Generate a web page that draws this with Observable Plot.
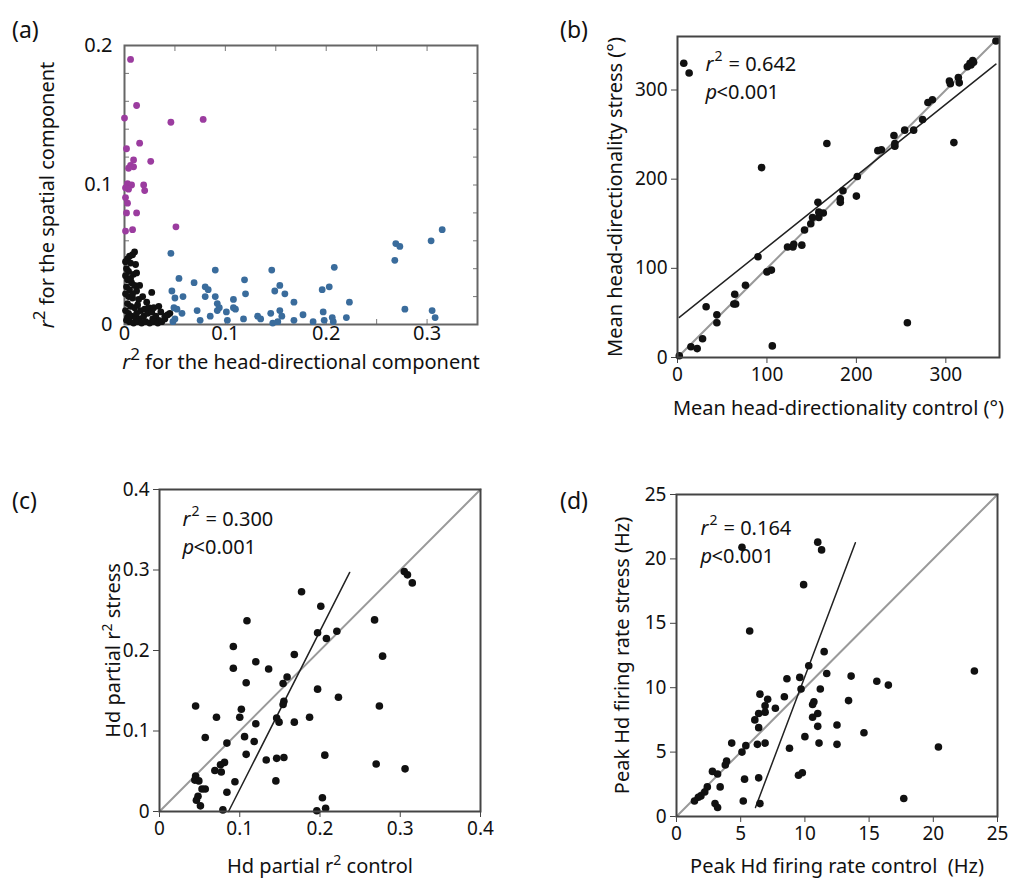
<!DOCTYPE html>
<html><head><meta charset="utf-8">
<script src="https://cdn.jsdelivr.net/npm/d3@7"></script>
<script src="https://cdn.jsdelivr.net/npm/@observablehq/plot@0.6"></script>
<style>
body{margin:0;background:#fff;font-family:"Noto Sans",sans-serif;}
#root{position:relative;width:1028px;height:886px;overflow:hidden;background:#fff;}
.panel{position:absolute;}
.tag{position:absolute;font-size:23px;color:#111;line-height:1;}
</style></head><body>
<div id="root"></div>
<script>
// ---------- DATA ----------
const panelTags = ["(a)", "(b)", "(c)", "(d)"];

// (a) r² head-directional (x) vs spatial (y)
const aPurple = [[0.006,0.190],[0.012,0.157],[0.000,0.148],[0.046,0.145],[0.078,0.147],[0.015,0.130],[0.002,0.126],[0.026,0.117],[0.009,0.118],[0.006,0.114],[0.009,0.113],[0.004,0.112],[0.003,0.101],[0.007,0.100],[0.001,0.098],[0.004,0.097],[0.019,0.100],[0.020,0.096],[0.001,0.091],[0.003,0.087],[0.002,0.080],[0.012,0.080],[0.051,0.070],[0.001,0.067],[0.008,0.068]];
const aBlack = [[0.010,0.052],[0.008,0.050],[0.005,0.049],[0.003,0.047],[0.001,0.045],[0.006,0.044],[0.002,0.040],[0.004,0.038],[0.009,0.036],[0.001,0.035],[0.012,0.037],[0.003,0.032],[0.007,0.030],[0.010,0.028],[0.002,0.027],[0.005,0.025],[0.012,0.024],[0.001,0.022],[0.004,0.020],[0.008,0.019],[0.014,0.018],[0.018,0.020],[0.022,0.016],[0.003,0.015],[0.006,0.013],[0.010,0.012],[0.013,0.014],[0.016,0.010],[0.020,0.011],[0.024,0.012],[0.001,0.010],[0.004,0.008],[0.007,0.006],[0.011,0.005],[0.015,0.004],[0.019,0.006],[0.023,0.008],[0.027,0.009],[0.028,0.004],[0.031,0.006],[0.034,0.003],[0.002,0.003],[0.005,0.002],[0.009,0.001],[0.013,0.002],[0.017,0.001],[0.021,0.002],[0.025,0.001],[0.029,0.002],[0.033,0.001],[0.037,0.002],[0.040,0.004],[0.043,0.007],[0.036,0.009],[0.012,0.008],[0.008,0.022],[0.003,0.005],[0.006,0.033],[0.015,0.028],[0.011,0.043],[0.027,0.023],[0.029,0.012],[0.034,0.013],[0.045,0.008],[0.040,0.006]];
const aBlue = [[0.046,0.051],[0.090,0.039],[0.146,0.039],[0.054,0.033],[0.069,0.030],[0.080,0.027],[0.083,0.025],[0.119,0.032],[0.154,0.028],[0.047,0.024],[0.058,0.020],[0.050,0.019],[0.080,0.020],[0.090,0.020],[0.108,0.018],[0.120,0.022],[0.149,0.024],[0.159,0.022],[0.168,0.016],[0.092,0.015],[0.094,0.012],[0.092,0.010],[0.049,0.012],[0.052,0.011],[0.057,0.008],[0.072,0.010],[0.085,0.006],[0.101,0.009],[0.108,0.012],[0.110,0.011],[0.075,0.003],[0.102,0.003],[0.118,0.004],[0.132,0.006],[0.135,0.004],[0.145,0.008],[0.154,0.010],[0.156,0.006],[0.147,0.001],[0.152,0.002],[0.168,0.003],[0.048,0.002],[0.050,0.004],[0.177,0.007],[0.187,0.002],[0.196,0.025],[0.203,0.027],[0.208,0.041],[0.197,0.009],[0.198,0.003],[0.206,0.005],[0.207,0.002],[0.220,0.005],[0.223,0.016],[0.268,0.046],[0.269,0.058],[0.273,0.056],[0.278,0.011],[0.304,0.060],[0.315,0.068],[0.305,0.010],[0.308,0.005]];
const aXTicks = [0, 0.1, 0.2, 0.3];
const aYTicks = [0, 0.1, 0.2];
const aXMinor = [0, 0.05, 0.1, 0.15, 0.2, 0.25, 0.3, 0.35];
const aYMinor = [0, 0.02, 0.04, 0.06, 0.08, 0.1, 0.12, 0.14, 0.16, 0.18, 0.2];

// (b) mean head-directionality control vs stress
const bPts = [[7,330],[13,319],[167,240],[94,213],[2,2],[15,12],[22,10],[28,21],[32,57],[44,39],[44,48],[63,60],[65,60],[64,71],[76,81],[90,113],[100,96],[105,98],[106,13],[123,124],[129,124],[130,127],[139,126],[142,143],[149,150],[151,157],[158,157],[163,162],[158,163],[157,174],[182,174],[182,178],[185,187],[200,181],[257,39],[201,203],[224,232],[228,233],[242,249],[243,237],[243,240],[254,255],[264,255],[274,267],[280,286],[285,289],[304,310],[305,307],[314,314],[315,308],[324,326],[327,330],[330,333],[328,328],[331,331],[356,355],[309,241]];
const bFit = [[2,45],[356,329]];
const bIdentity = [[0,0],[360,360]];
const bTicks = [0, 100, 200, 300];

// (c) Hd partial r² control vs stress
const cPts = [[0.177,0.273],[0.201,0.255],[0.109,0.237],[0.197,0.222],[0.092,0.205],[0.168,0.195],[0.092,0.178],[0.120,0.186],[0.136,0.177],[0.159,0.167],[0.221,0.224],[0.208,0.215],[0.305,0.298],[0.309,0.294],[0.315,0.284],[0.268,0.238],[0.278,0.193],[0.154,0.159],[0.108,0.160],[0.197,0.152],[0.223,0.142],[0.274,0.131],[0.045,0.131],[0.102,0.127],[0.155,0.137],[0.154,0.133],[0.071,0.117],[0.100,0.117],[0.146,0.116],[0.149,0.111],[0.168,0.111],[0.187,0.117],[0.120,0.109],[0.057,0.092],[0.106,0.093],[0.118,0.087],[0.084,0.085],[0.108,0.071],[0.206,0.070],[0.133,0.064],[0.146,0.066],[0.155,0.067],[0.081,0.061],[0.076,0.058],[0.069,0.051],[0.077,0.049],[0.270,0.059],[0.306,0.053],[0.045,0.044],[0.044,0.039],[0.049,0.038],[0.057,0.028],[0.053,0.028],[0.094,0.037],[0.145,0.038],[0.084,0.024],[0.048,0.019],[0.046,0.014],[0.203,0.017],[0.051,0.007],[0.079,0.002],[0.196,0.001],[0.207,0.004]];
const cFit = [[0.086,0.0],[0.237,0.297]];
const cIdentity = [[0,0],[0.4,0.4]];
const cTicks = [0, 0.1, 0.2, 0.3, 0.4];

// (d) peak Hd firing rate control vs stress (Hz)
const dPts = [[5.1,20.9],[11.0,21.3],[11.3,20.7],[9.9,18.0],[5.7,14.4],[11.5,12.8],[10.3,11.7],[11.7,11.1],[23.2,11.3],[8.6,10.7],[9.6,10.8],[13.6,10.9],[15.6,10.5],[16.5,10.2],[9.7,9.9],[11.2,9.9],[6.5,9.5],[7.1,9.1],[8.4,9.3],[13.4,9.0],[6.9,8.6],[7.7,8.4],[10.7,8.9],[10.6,8.7],[6.4,8.0],[6.9,8.1],[11.0,8.0],[10.6,7.7],[6.1,7.5],[6.4,6.9],[11.0,7.0],[12.5,7.1],[14.6,6.5],[10.0,6.2],[4.3,5.7],[6.9,5.7],[6.3,5.6],[5.4,5.5],[11.1,5.7],[12.5,5.6],[5.1,5.0],[8.8,5.3],[20.4,5.4],[3.9,4.3],[3.8,4.0],[2.8,3.5],[3.2,3.3],[3.4,2.3],[2.4,2.3],[2.2,1.9],[1.9,1.6],[1.7,1.5],[1.4,1.2],[3.0,1.0],[3.2,0.7],[5.3,2.9],[6.4,3.0],[9.5,3.2],[9.8,3.4],[5.2,1.2],[6.5,1.0],[17.7,1.4]];
const dFit = [[6.15,0.7],[13.93,21.26]];
const dIdentity = [[0,0],[25,25]];
const dTicks = [0, 5, 10, 15, 20, 25];

const statR = ["= 0.642", "= 0.300", "= 0.164"];
const statP = "<0.001";

const labels = {
  aX: "r² for the head-directional component",
  aY: "r² for the spatial component",
  bX: "Mean head-directionality control (°)",
  bY: "Mean head-directionality stress (°)",
  cX: "Hd partial r² control",
  cY: "Hd partial r² stress",
  dX: "Peak Hd firing rate control  (Hz)",
  dY: "Peak Hd firing rate stress (Hz)"
};

// ---------- DRAWING ----------
const FONT = '"Noto Sans", sans-serif';
const SVGNS = "http://www.w3.org/2000/svg";
const root = document.getElementById("root");
const fx = d => d[0], fy = d => d[1];
const fmt = d => String(+d.toFixed(2));

function place(svg, left, top) {
  const w = document.createElement("div");
  w.className = "panel";
  w.style.left = left + "px";
  w.style.top = top + "px";
  w.appendChild(svg);
  root.appendChild(w);
}

// turn "r²" in titles into r + raised 2 (real text kept)
function superscripts(svg, italicR, supSize, rise) {
  svg.querySelectorAll("text").forEach(t => {
    if (t.children.length) return;
    const s = t.textContent;
    const i = s.indexOf("r²");
    if (i < 0) return;
    t.textContent = "";
    const add = (txt, attrs) => {
      const ts = document.createElementNS(SVGNS, "tspan");
      ts.textContent = txt;
      for (const k in attrs) ts.setAttribute(k, attrs[k]);
      t.appendChild(ts);
    };
    if (i > 0) add(s.slice(0, i), {});
    add("r", italicR ? {"font-style": "italic"} : {});
    add("2", {"font-size": supSize, dy: -rise});
    add(s.slice(i + 2), {dy: rise});
  });
}

function stats(rText, dx, dyR, dyP) {
  const t = d => d;
  const base = {text: t, frameAnchor: "top-left", textAnchor: "start", lineAnchor: "middle", fill: "#111"};
  return [
    Plot.text(["r"], {...base, dx, dy: dyR, fontSize: 20, fontStyle: "italic"}),
    Plot.text(["2"], {...base, dx: dx + 9, dy: dyR - 8, fontSize: 14}),
    Plot.text([rText], {...base, dx: dx + 23, dy: dyR, fontSize: 20}),
    Plot.text(["p"], {...base, dx, dy: dyP, fontSize: 20, fontStyle: "italic"}),
    Plot.text([statP], {...base, dx: dx + 11, dy: dyP, fontSize: 20})
  ];
}

function titles(xl, yl, dyX, dxY, dyY, fs) {
  return [
    Plot.text([xl], {text: d => d, frameAnchor: "bottom", textAnchor: "middle", lineAnchor: "middle", dy: dyX, fontSize: fs, fill: "#111"}),
    Plot.text([yl], {text: d => d, frameAnchor: "left", textAnchor: "middle", lineAnchor: "middle", dx: dxY, dy: dyY, rotate: -90, fontSize: fs, fill: "#111"})
  ];
}

// Panel (a)
const pa = Plot.plot({
  width: 520, height: 390,
  marginLeft: 124, marginRight: 43, marginTop: 45, marginBottom: 66,
  style: {fontFamily: FONT, background: "transparent", color: "#111", overflow: "visible"},
  x: {domain: [0, 0.35]},
  y: {domain: [0, 0.2]},
  marks: [
    Plot.axisX(aXMinor, {anchor: "bottom", tickSize: -5, tickFormat: () => "", stroke: "#777", label: null}),
    Plot.axisX(aXMinor, {anchor: "top", tickSize: -5, tickFormat: () => "", stroke: "#777", label: null}),
    Plot.axisY(aYMinor, {anchor: "left", tickSize: -5, tickFormat: () => "", stroke: "#777", label: null}),
    Plot.axisY(aYMinor, {anchor: "right", tickSize: -5, tickFormat: () => "", stroke: "#777", label: null}),
    Plot.axisX(aXTicks, {anchor: "bottom", tickSize: 0, tickPadding: 1, tickFormat: fmt, fontSize: 20, label: null}),
    Plot.axisY(aYTicks, {anchor: "left", tickSize: 0, tickPadding: 12, tickFormat: fmt, fontSize: 20, label: null}),
    Plot.frame({stroke: "#666", strokeWidth: 2}),
    Plot.dot(aBlack, {x: fx, y: fy, r: 3.4, fill: "#111"}),
    Plot.dot(aPurple, {x: fx, y: fy, r: 3.4, fill: "#9b3c9f"}),
    Plot.dot(aBlue, {x: fx, y: fy, r: 3.4, fill: "#3a6c9c"}),
    ...titles(labels.aX, labels.aY, 38, -77, 10, 20)
  ]
});
superscripts(pa, true, 17, 9);
place(pa, 0, 0);

function squarePanel({left, top, width, height, m, domain, ticks, pts, fit, ident, rText, st, tt, xl, yl}) {
  const p = Plot.plot({
    width, height,
    marginLeft: m[0], marginRight: m[1], marginTop: m[2], marginBottom: m[3],
    style: {fontFamily: FONT, background: "transparent", color: "#111", overflow: "visible"},
    x: {domain},
    y: {domain},
    marks: [
      Plot.axisX(ticks, {anchor: "bottom", tickSize: 6, tickPadding: 4, tickFormat: fmt, fontSize: 19, stroke: "#444", label: null}),
      Plot.axisY(ticks, {anchor: "left", tickSize: 6, tickPadding: 4, tickFormat: fmt, fontSize: 19, stroke: "#444", label: null}),
      Plot.line(ident, {x: fx, y: fy, stroke: "#9a9a9a", strokeWidth: 2}),
      Plot.line(fit, {x: fx, y: fy, stroke: "#222", strokeWidth: 1.5}),
      Plot.dot(pts, {x: fx, y: fy, r: 3.8, fill: "#111"}),
      Plot.frame({stroke: "#444", strokeWidth: 2}),
      ...stats(rText, st[0], st[1], st[2]),
      ...titles(xl, yl, tt[0], tt[1], 0, 20)
    ]
  });
  superscripts(p, false, 14, 8);
  place(p, left, top);
}

squarePanel({left: 540, top: 0, width: 488, height: 430, m: [137, 29, 36, 73], domain: [0, 360], ticks: bTicks,
  pts: bPts, fit: bFit, ident: bIdentity, rText: statR[0], st: [28, 28, 56], tt: [51, -62], xl: labels.bX, yl: labels.bY});
squarePanel({left: 0, top: 440, width: 520, height: 446, m: [159, 40, 49, 75], domain: [0, 0.4], ticks: cTicks,
  pts: cPts, fit: cFit, ident: cIdentity, rText: statR[1], st: [23, 30, 58], tt: [55, -46], xl: labels.cX, yl: labels.cY});
squarePanel({left: 540, top: 440, width: 488, height: 446, m: [136, 31, 54, 70], domain: [0, 25], ticks: dTicks,
  pts: dPts, fit: dFit, ident: dIdentity, rText: statR[2], st: [24, 34, 62], tt: [50, -54], xl: labels.dX, yl: labels.dY});

// Panel tags
[[12, 18], [560, 18], [12, 489], [560, 489]].forEach(([l, t], i) => {
  const d = document.createElement("div");
  d.className = "tag";
  d.style.left = l + "px";
  d.style.top = t + "px";
  d.textContent = panelTags[i];
  root.appendChild(d);
});
</script>
</body></html>
